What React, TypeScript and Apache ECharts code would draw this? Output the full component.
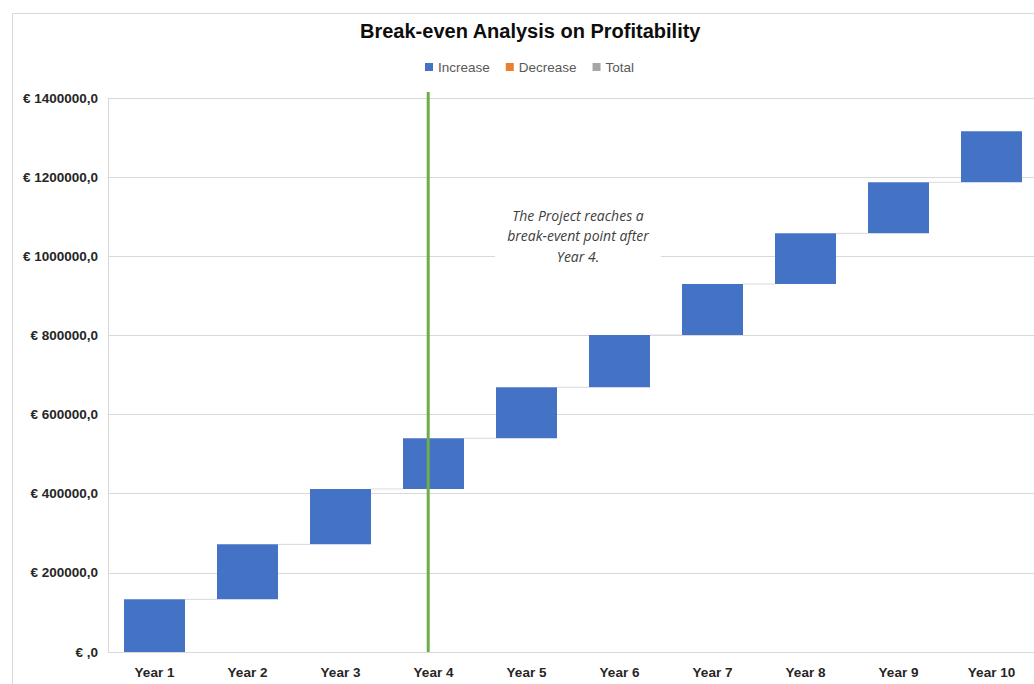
import React, { useEffect, useRef } from "react";
import * as echarts from "echarts";

const categories = ["Year 1", "Year 2", "Year 3", "Year 4", "Year 5", "Year 6", "Year 7", "Year 8", "Year 9", "Year 10"];
const increases = [133000, 139000, 140000, 128000, 129000, 132000, 129000, 128000, 129000, 129000];
const decreases: number[] = [];
const totals: number[] = [];
const breakEvenIndex = 3;
const yTicks = { min: 0, max: 1400000, interval: 200000 };

export default function App() {
  const ref = useRef<HTMLDivElement>(null);
  useEffect(() => {
    if (!ref.current) return;
    const chart = echarts.init(ref.current, null, { renderer: "svg" });
    const bases: number[] = [];
    const tops: number[] = [];
    let acc = 0;
    increases.forEach((v) => {
      bases.push(acc);
      acc += v;
      tops.push(acc);
    });
    const connectors = tops.slice(0, -1).map((v, i) => [i, v]);
    const font = "'Liberation Sans', Arial, sans-serif";
    chart.setOption({
      animation: false,
      backgroundColor: "#ffffff",
      title: {
        text: "Break-even Analysis on Profitability",
        left: 355,
        top: 16,
        textStyle: { fontFamily: font, fontSize: 20, fontWeight: "bold", color: "#0d0d0d" },
      },
      legend: {
        data: ["Increase", "Decrease", "Total"],
        top: 55,
        left: 420,
        itemWidth: 8,
        itemHeight: 8,
        itemGap: 16,
        icon: "rect",
        textStyle: { fontFamily: font, fontSize: 13.5, color: "#595959" },
      },
      grid: { left: 108, top: 98, width: 930, bottom: 32 },
      xAxis: {
        type: "category",
        data: categories,
        axisLine: { lineStyle: { color: "#d9d9d9" } },
        axisTick: { show: false },
        axisLabel: { fontFamily: font, fontSize: 13.5, fontWeight: "bold", color: "#262626", margin: 13 },
      },
      yAxis: {
        type: "value",
        min: yTicks.min,
        max: yTicks.max,
        interval: yTicks.interval,
        axisLine: { show: true, lineStyle: { color: "#d9d9d9" } },
        splitLine: { lineStyle: { color: "#d9d9d9" } },
        axisLabel: {
          fontFamily: font,
          fontSize: 13.5,
          fontWeight: "bold",
          color: "#262626",
          margin: 10,
          formatter: (v: number) => (v === 0 ? "€ ,0" : "€ " + v + ",0"),
        },
      },
      series: [
        {
          name: "Base",
          type: "bar",
          stack: "wf",
          data: bases,
          barWidth: 61,
          itemStyle: { color: "transparent" },
          silent: true,
        },
        {
          name: "Increase",
          type: "bar",
          stack: "wf",
          data: increases,
          barWidth: 61,
          itemStyle: { color: "#4472c4" },
        },
        { name: "Decrease", type: "bar", stack: "wf", data: decreases, itemStyle: { color: "#ed7d31" } },
        { name: "Total", type: "bar", stack: "wf", data: totals, itemStyle: { color: "#a5a5a5" } },
        {
          name: "Connectors",
          type: "custom",
          data: connectors,
          renderItem: (params: any, api: any) => {
            const i = api.value(0);
            const v = api.value(1);
            const p1 = api.coord([i, v]);
            const p2 = api.coord([i + 1, v]);
            const half = 30.5;
            return {
              type: "line",
              shape: { x1: p1[0] + half, y1: p1[1], x2: p2[0] - half, y2: p2[1] },
              style: { stroke: "#d9d9d9", lineWidth: 1 },
            };
          },
          z: 1,
        },
        {
          name: "BreakEven",
          type: "custom",
          data: [[breakEvenIndex, yTicks.max]],
          clip: false,
          renderItem: (params: any, api: any) => {
            const i = api.value(0);
            const bottom = api.coord([i, 0]);
            const top = api.coord([i, api.value(1)]);
            const band = api.size([1, 0])[0];
            const x = bottom[0] - band * 0.057;
            return {
              type: "line",
              shape: { x1: x, y1: bottom[1], x2: x, y2: top[1] - 6 },
              style: { stroke: "#70ad47", lineWidth: 3 },
            };
          },
          z: 5,
        },
      ],
      graphic: [
        {
          type: "rect",
          left: 10,
          top: 11,
          shape: { width: 1100, height: 1000 },
          style: { fill: "none", stroke: "#d9d9d9", lineWidth: 1 },
          silent: true,
          z: -10,
        },
        {
          type: "text",
          x: 578,
          y: 205,
          style: {
            text: "The Project reaches a\nbreak-event point after\nYear 4.",
            fontFamily: "'Open Sans', sans-serif",
            fontStyle: "italic",
            fontSize: 14,
            lineHeight: 20.5,
            fill: "#404040",
            align: "center",
            verticalAlign: "top",
            backgroundColor: "#ffffff",
            padding: [0, 12, 4, 12],
          },
          z: 10,
        },
      ],
    });
    return () => chart.dispose();
  }, []);
  return (
    <div style={{ position: "absolute", left: 0, top: 0, width: 1034, height: 684, overflow: "hidden" }}>
      <div ref={ref} style={{ width: 1044, height: 684 }} />
    </div>
  );
}
